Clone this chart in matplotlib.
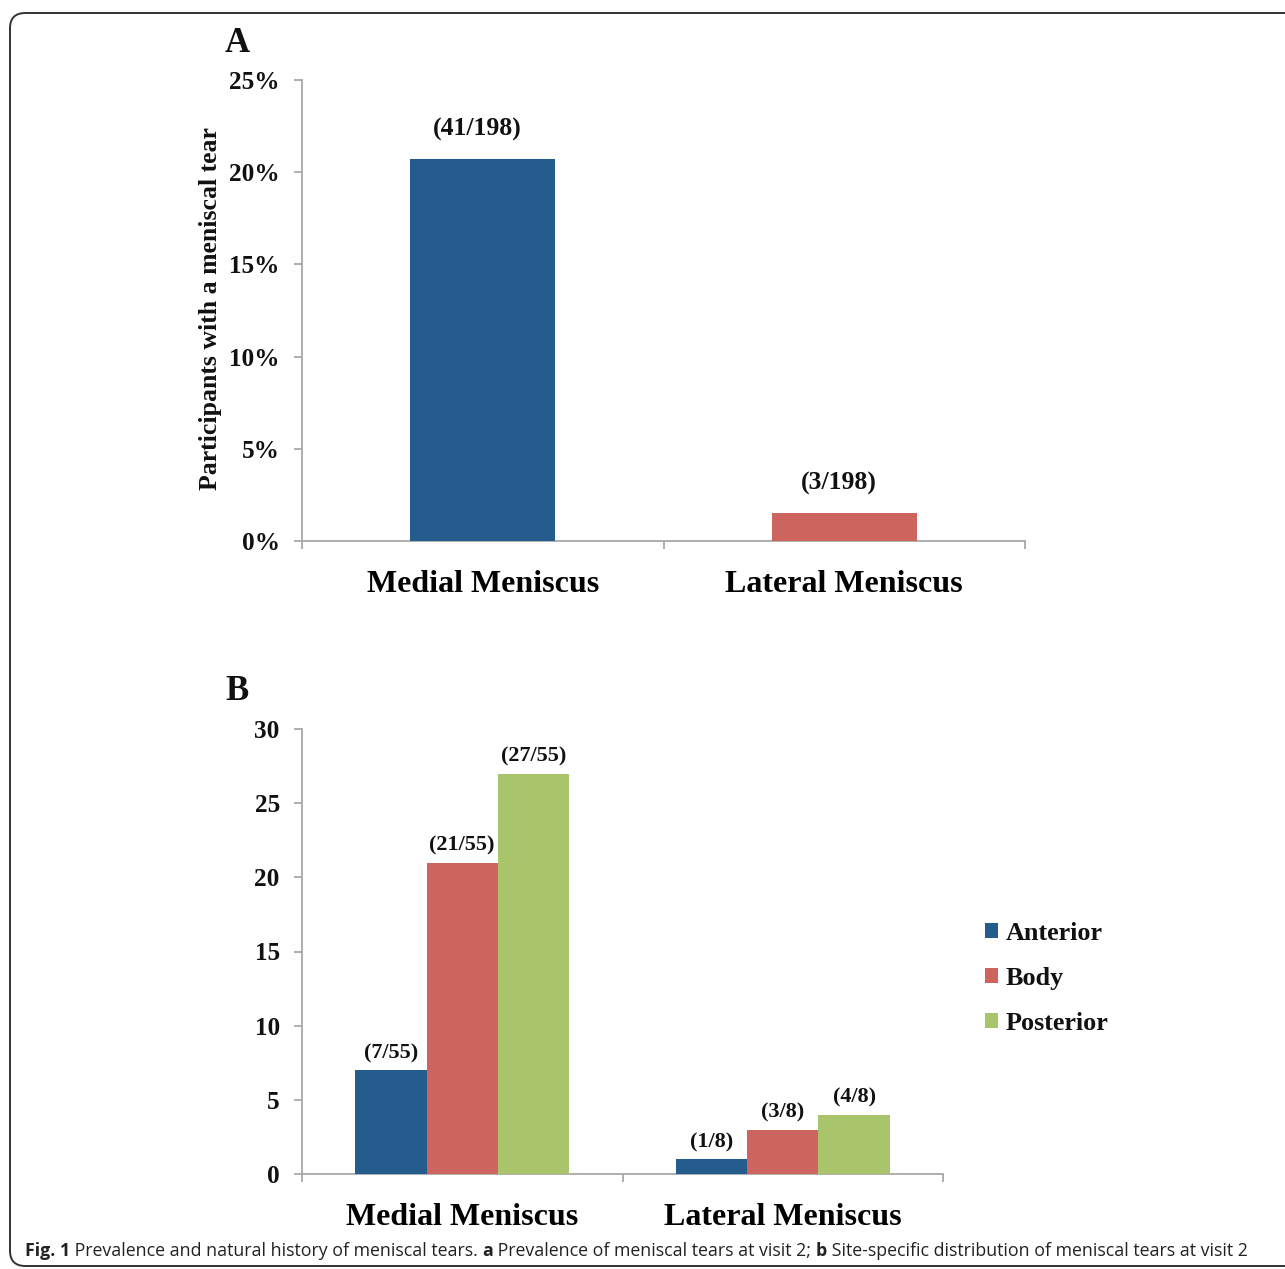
import matplotlib
matplotlib.use("Agg")
import matplotlib.pyplot as plt
from matplotlib.patches import Patch, FancyBboxPatch
from matplotlib.ticker import FuncFormatter
from matplotlib import font_manager
import numpy as np

# ---------------- data ----------------
categories = ["Medial Meniscus", "Lateral Meniscus"]
a_tears = [41, 3]
a_total = [198, 198]

sites = ["Anterior", "Body", "Posterior"]
b_medial = [7, 21, 27]
b_lateral = [1, 3, 4]
b_total = [55, 8]

colors = ["#245C8E", "#CD645E", "#AAC46B"]
spine_c = "#A8A8A8"
serif = ["Liberation Serif", "DejaVu Serif"]

W, H = 1285, 1269
fig = plt.figure(figsize=(W / 100, H / 100), dpi=100)
fig.patch.set_facecolor("white")

def fbox(l, t, r, b):
    return [l / W, 1 - b / H, (r - l) / W, (b - t) / H]

def style_axis(ax, ymax, step, fmt):
    for s in ["top", "right"]:
        ax.spines[s].set_visible(False)
    for s in ["left", "bottom"]:
        ax.spines[s].set_color(spine_c)
        ax.spines[s].set_linewidth(1.3)
    ax.set_xlim(-0.5, 1.5)
    ax.set_ylim(0, ymax)
    ax.set_yticks(np.arange(0, ymax + 0.001, step))
    ax.yaxis.set_major_formatter(FuncFormatter(fmt))
    ax.set_xticks([-0.5, 0.5, 1.5])
    ax.set_xticklabels([])
    ax.set_xticks([0, 1], minor=True)
    ax.set_xticklabels(categories, minor=True, fontfamily=serif,
                       fontweight="bold", fontsize=23)
    ax.tick_params(axis="x", which="major", direction="out", length=6,
                   color=spine_c, width=1.3)
    ax.tick_params(axis="x", which="minor", length=0, pad=21)
    ax.tick_params(axis="y", direction="out", length=6, color=spine_c,
                   width=1.3, pad=10)
    for lab in ax.get_yticklabels():
        lab.set_fontfamily(serif)
        lab.set_fontweight("bold")
        lab.set_fontsize(18.2)
        lab.set_color("#111111")

# ---------------- panel A ----------------
axA = fig.add_axes(fbox(302, 80, 1025, 541))
pct = [100 * t / n for t, n in zip(a_tears, a_total)]
xa = np.arange(len(categories))
axA.bar(xa, pct, width=0.4, color=[colors[0], colors[1]], zorder=3)
style_axis(axA, 25, 5, lambda v, p: f"{int(v)}%")
for x, v, t, n in zip(xa, pct, a_tears, a_total):
    axA.annotate(f"({t}/{n})", (x, v), xytext=(-4, 13), textcoords="offset points",
                 ha="center", va="bottom", fontfamily=serif, fontweight="bold",
                 fontsize=18.5, color="#111111")
axA.set_ylabel("Participants with a meniscal tear", fontfamily=serif,
               fontweight="bold", fontsize=18.5, color="#111111")
axA.yaxis.set_label_coords(-0.111, 0.505)

# ---------------- panel B ----------------
axB = fig.add_axes(fbox(302, 729, 943, 1174))
w = 0.223
xb = np.arange(len(categories))
for i, s in enumerate(sites):
    vals = [b_medial[i], b_lateral[i]]
    xs = xb + (i - 1) * w
    axB.bar(xs, vals, width=w, color=colors[i], label=s, zorder=3)
    for x, v, n in zip(xs, vals, b_total):
        axB.annotate(f"({v}/{n})", (x, v), xytext=(0, 5), textcoords="offset points",
                     ha="center", va="bottom", fontfamily=serif, fontweight="bold",
                     fontsize=16, color="#111111")
style_axis(axB, 30, 5, lambda v, p: f"{int(v)}")

handles = [Patch(facecolor=c, edgecolor="none") for c in colors]
leg = fig.legend(handles, sites, loc="upper left",
                 bbox_to_anchor=(985 / W, 1 - 922 / H), frameon=False,
                 prop={"family": serif, "weight": "bold", "size": 18.8},
                 handlelength=0.5, handleheight=0.5, handletextpad=0.28,
                 labelspacing=0.84, borderpad=0, borderaxespad=0)
for t in leg.get_texts():
    t.set_color("#111111")

# panel letters
fig.text(237 / W, 1 - 44 / H, "A", ha="center", va="center", fontfamily=serif,
         fontweight="bold", fontsize=25, color="#111111")
fig.text(237 / W, 1 - 692 / H, "B", ha="center", va="center", fontfamily=serif,
         fontweight="bold", fontsize=25, color="#111111")

# border
box = FancyBboxPatch((10 / W, 1 - 1266 / H), 1.05, (1266 - 13) / H,
                     boxstyle="round,pad=0,rounding_size=0.012",
                     transform=fig.transFigure, facecolor="none",
                     edgecolor="#333333", linewidth=1.4, clip_on=False)
fig.patches.append(box)

# caption
cap_parts = [("Fig. 1", "bold"), (" Prevalence and natural history of meniscal tears. ", "normal"),
             ("a", "bold"), (" Prevalence of meniscal tears at visit 2; ", "normal"),
             ("b", "bold"), (" Site-specific distribution of meniscal tears at visit 2", "normal")]
available = {f.name for f in font_manager.fontManager.ttflist}
cap_font = ["Liberation Sans Narrow"] if "Liberation Sans Narrow" in available else ["Open Sans"]
cap_font = cap_font + ["DejaVu Sans"]
renderer = fig.canvas.get_renderer()

def draw_caption(size, draw=True):
    x = 25
    objs = []
    for txt, wt in cap_parts:
        t = fig.text(x / W, 1 - 1251 / H, txt, ha="left", va="center",
                     fontfamily=cap_font, fontweight=wt, fontsize=size,
                     color="#222222")
        bb = t.get_window_extent(renderer)
        x += bb.width
        objs.append(t)
    if not draw:
        for t in objs:
            t.remove()
    return x - 25

total = draw_caption(14, draw=False)
size = 14 * 1228 / total
draw_caption(size)

fig.savefig("out.png", dpi=100, facecolor="white")
